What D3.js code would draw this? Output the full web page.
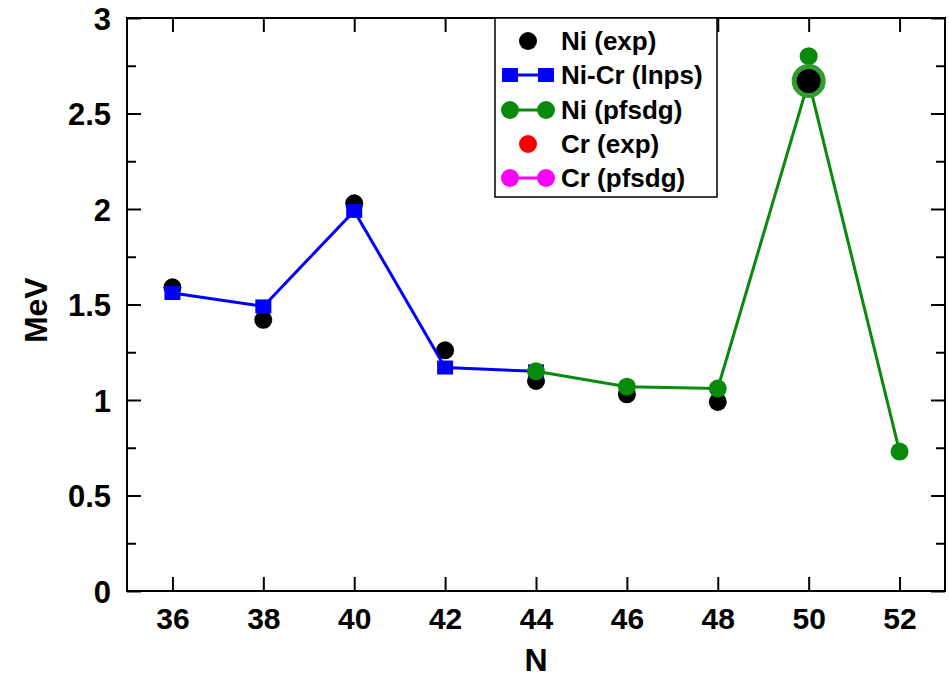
<!DOCTYPE html>
<html lang="en">
<head>
<meta charset="utf-8">
<title>N vs MeV</title>
<script src="https://cdn.jsdelivr.net/npm/d3@7"></script>
<style>
  body { margin: 0; background: #fff; }
  svg text { font-family: "Liberation Sans", Arial, Helvetica, sans-serif; font-weight: bold; }
</style>
</head>
<body>
<script>
// data
const nTicks = [36, 38, 40, 42, 44, 46, 48, 50, 52];
const yTicks = [0, 0.5, 1, 1.5, 2, 2.5, 3];
const yMinor = [0.25, 0.75, 1.25, 1.75, 2.25, 2.75];

const niExpN = [36, 38, 40, 42, 44, 46, 48, 50];
const niExp  = [1.59, 1.42, 2.03, 1.26, 1.10, 1.03, 0.99, 2.67];

const lnpsN = [36, 38, 40, 42, 44];
const lnps  = [1.56, 1.49, 1.99, 1.17, 1.15];

const pfsdgN = [44, 46, 48, 50, 52];
const pfsdg  = [1.15, 1.07, 1.06, 2.67, 0.73];

// extra Ni (pfsdg) point above the N=50 peak
const pfsdgExtraN = [50];
const pfsdgExtra  = [2.80];

const legendLabels = ["Ni (exp)", "Ni-Cr (lnps)", "Ni (pfsdg)", "Cr (exp)", "Cr (pfsdg)"];

var w = 949, h = 677;
var m = {left: 127, right: 4, top: 18, bottom: 86};

var svg = d3.select("body").append("svg")
    .attr("width", w).attr("height", h);

var x = d3.scaleLinear().domain([35, 53]).range([m.left, w - m.right]);
var y = d3.scaleLinear().domain([0, 3]).range([h - m.bottom, m.top]);

const blue = "#0000ff", green = "#0a8a0a", ring = "#2e9e2e";

// axes (ticks pointing inward)
var gx = svg.append("g").attr("transform", `translate(0,${y(0)})`)
    .call(d3.axisBottom(x).tickValues(nTicks).tickSize(-14).tickPadding(17));
var gxTop = svg.append("g").attr("transform", `translate(0,${y(3)})`)
    .call(d3.axisTop(x).tickValues(nTicks).tickSize(-14).tickFormat(""));
var gy = svg.append("g").attr("transform", `translate(${x(35)},0)`)
    .call(d3.axisLeft(y).tickValues(yTicks).tickSize(-14).tickPadding(16).tickFormat(d3.format("~g")));
var gyMin = svg.append("g").attr("transform", `translate(${x(35)},0)`)
    .call(d3.axisLeft(y).tickValues(yMinor).tickSize(-9).tickFormat(""));
var gyR = svg.append("g").attr("transform", `translate(${x(53)},0)`)
    .call(d3.axisRight(y).tickValues(yTicks).tickSize(-14).tickFormat(""));
var gyRMin = svg.append("g").attr("transform", `translate(${x(53)},0)`)
    .call(d3.axisRight(y).tickValues(yMinor).tickSize(-9).tickFormat(""));

[gx, gxTop, gy, gyMin, gyR, gyRMin].forEach(g => {
  g.select(".domain").remove();
  g.selectAll(".tick line").attr("stroke", "#000").attr("stroke-width", 2);
});
gx.selectAll(".tick text").attr("font-size", "30px").attr("fill", "#000")
  .attr("font-family", "'Liberation Sans', Arial, sans-serif").attr("font-weight", "bold");
gy.selectAll(".tick text").attr("font-size", "31px").attr("fill", "#000")
  .attr("font-family", "'Liberation Sans', Arial, sans-serif").attr("font-weight", "bold")
  .attr("dy", "0.36em");

svg.append("rect")
    .attr("x", x(35)).attr("y", y(3))
    .attr("width", x(53) - x(35)).attr("height", y(0) - y(3))
    .attr("fill", "none").attr("stroke", "#000").attr("stroke-width", 2);

// axis titles
svg.append("text").attr("x", x(44)).attr("y", 671)
    .attr("text-anchor", "middle").attr("font-size", "32px").text("N");
svg.append("text")
    .attr("transform", `translate(47,${y(1.47)}) rotate(-90)`)
    .attr("text-anchor", "middle").attr("font-size", "32px").text("MeV");

// Ni (exp)
svg.selectAll("circle.exp")
  .data(niExpN.map((n, i) => [n, niExp[i]]).filter(d => d[0] !== 50))
  .enter().append("circle").attr("class", "exp")
    .attr("cx", d => x(d[0])).attr("cy", d => y(d[1]))
    .attr("r", 9).attr("fill", "#000");

// Ni-Cr (lnps)
var line = d3.line().x(d => x(d[0])).y(d => y(d[1]));
var lnpsData = lnpsN.map((n, i) => [n, lnps[i]]);
svg.append("path").datum(lnpsData).attr("d", line)
    .attr("fill", "none").attr("stroke", blue).attr("stroke-width", 3);
svg.selectAll("rect.lnps").data(lnpsData).enter().append("rect")
    .attr("class", "lnps")
    .attr("x", d => x(d[0]) - 8).attr("y", d => y(d[1]) - 7)
    .attr("width", 16).attr("height", 14).attr("fill", blue);

// Ni (pfsdg)
var pfData = pfsdgN.map((n, i) => [n, pfsdg[i]]);
svg.append("path").datum(pfData).attr("d", line)
    .attr("fill", "none").attr("stroke", green).attr("stroke-width", 3);
svg.selectAll("circle.pf").data(pfData.filter(d => d[0] !== 50)
      .concat(pfsdgExtraN.map((n, i) => [n, pfsdgExtra[i]])))
  .enter().append("circle").attr("class", "pf")
    .attr("cx", d => x(d[0])).attr("cy", d => y(d[1]))
    .attr("r", 9).attr("fill", green);

// N=50 experimental point, ringed
niExpN.forEach((n, i) => {
  if (n !== 50) return;
  svg.append("circle").attr("cx", x(n)).attr("cy", y(niExp[i]))
     .attr("r", 14.5).attr("fill", "#000").attr("stroke", ring).attr("stroke-width", 5);
});

// legend
var lg = svg.append("g");
lg.append("rect").attr("x", 495).attr("y", y(3)).attr("width", 222).attr("height", 179)
  .attr("fill", "#fff").attr("stroke", "#000").attr("stroke-width", 1.5);
const legendY = [41, 75, 110, 144, 178];
const legendColor = ["#000", blue, green, "#ff0000", "#ff00ff"];
legendLabels.forEach((lab, i) => {
  var yy = legendY[i], c = legendColor[i];
  if (i === 1 || i === 2 || i === 4) {
    lg.append("line").attr("x1", 510).attr("x2", 546).attr("y1", yy).attr("y2", yy)
      .attr("stroke", c).attr("stroke-width", 3);
  }
  if (i === 1) {
    [510, 546].forEach(cx => lg.append("rect").attr("x", cx - 8).attr("y", yy - 7)
      .attr("width", 16).attr("height", 14).attr("fill", c));
  } else if (i === 2 || i === 4) {
    [510, 546].forEach(cx => lg.append("circle").attr("cx", cx).attr("cy", yy)
      .attr("r", 9).attr("fill", c));
  } else {
    lg.append("circle").attr("cx", 528).attr("cy", yy).attr("r", 9).attr("fill", c);
  }
  lg.append("text").attr("x", 561).attr("y", yy).attr("dy", "0.36em")
    .attr("font-size", "26px").text(lab);
});
</script>
</body>
</html>
